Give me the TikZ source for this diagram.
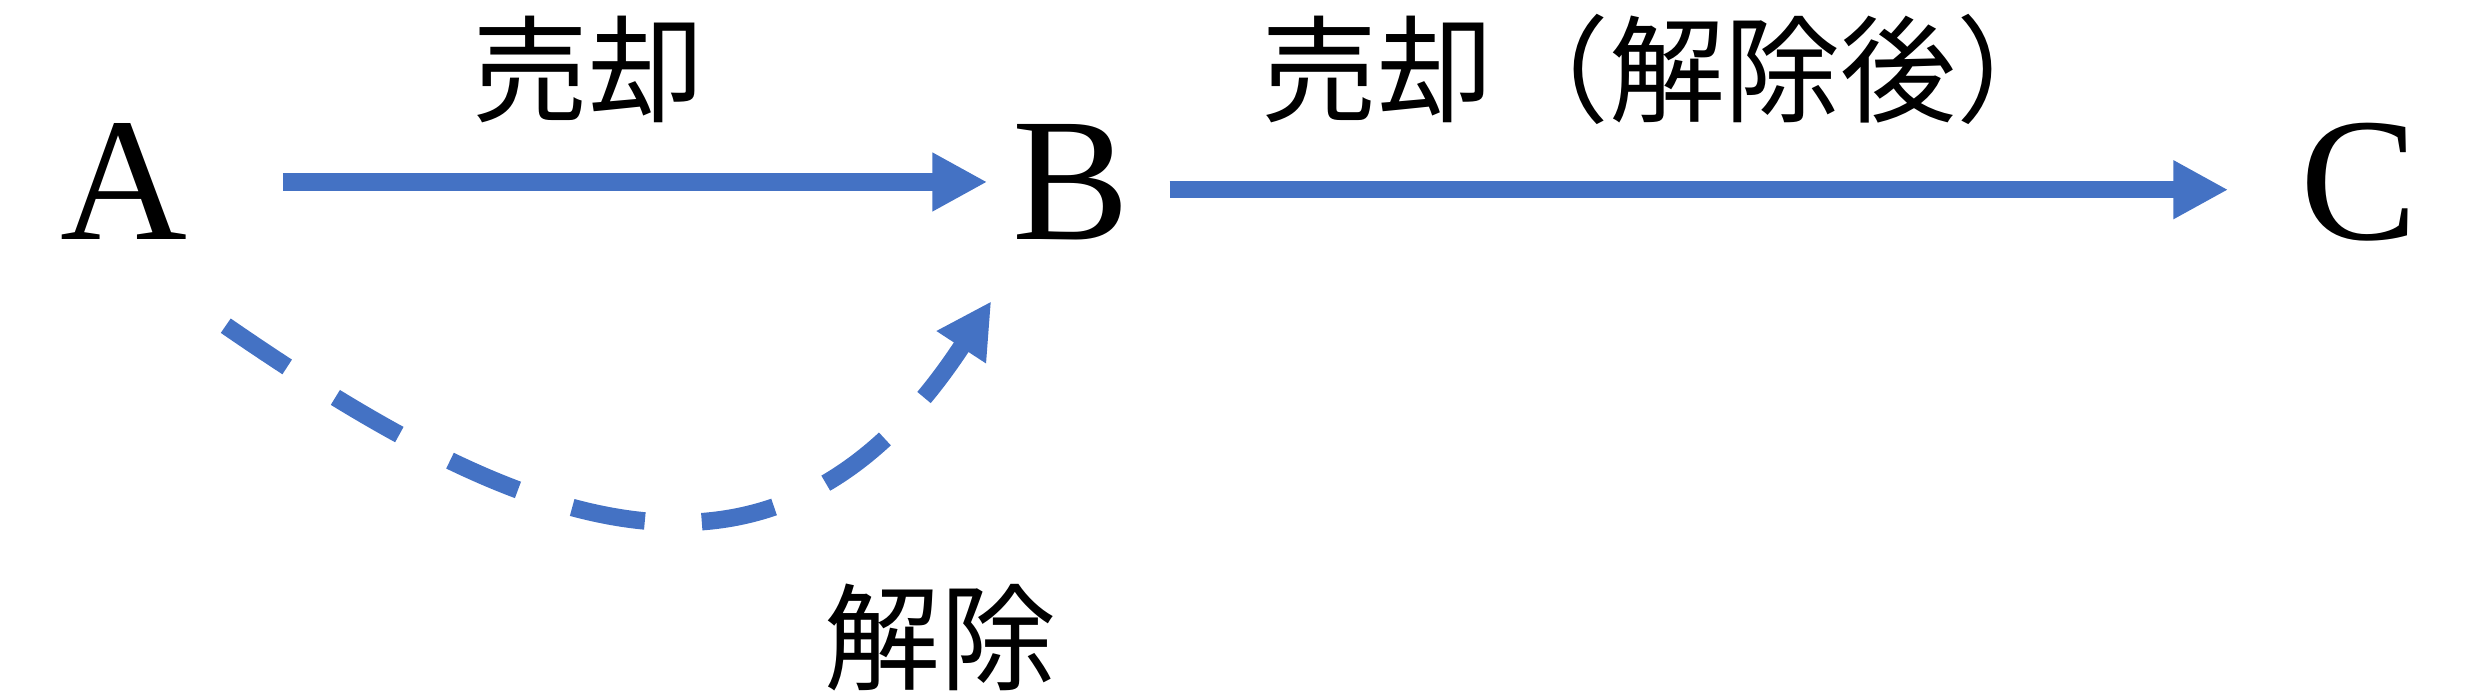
\documentclass[tikz,border=0pt]{standalone}
\usepackage{fontspec}
\setmainfont{Liberation Serif}
\newfontfamily\jpfont{Noto Sans CJK JP}
\usetikzlibrary{arrows.meta}
\definecolor{flowblue}{RGB}{68,114,196}
\tikzset{
	party/.style={inner sep=0pt, anchor=base, font=\fontsize{50}{60}\selectfont},
	kanji/.style={inner sep=0pt, font=\jpfont\fontsize{33}{40}\selectfont},
	flow/.style={flowblue, line width=1.75mm, -{Triangle[length=5.5mm,width=5.5mm]}}
}
\begin{document}
\begin{tikzpicture}
	\useasboundingbox (0,0) rectangle (24.81,6.96);
	\node[party] (A) at (1.24,4.56) {A};
	\node[party] (B) at (10.71,4.56) {B};
	\node[party] (C) at (23.59,4.56) {C};
	
	\draw[flow] ([xshift=9.46mm]A.east) -- ([xshift=-2.44mm]A.east -| B.west);
	\draw[flow] ([shift={(3.94mm,-0.7mm)}]B.east) -- ([shift={(-7.14mm,-0.7mm)}]B.east -| C.west);
	\draw[flow, dash pattern=on 7.4mm off 5.7mm] ([shift={(3.76mm,-8.5mm)}]A.south east) .. controls +(2.9,-2.0) and +(-2.19,-3.35) .. ([shift={(-2.04mm,-6mm)}]B.south west);
	
	\node[kanji] (sell) at (5.88,6.27) {売却};
	\node[kanji] (sellafter) at (16.67,6.27) {売却（解除後）};
	\node[kanji] (cancel) at (9.40,0.585) {解除};
\end{tikzpicture}
\end{document}
